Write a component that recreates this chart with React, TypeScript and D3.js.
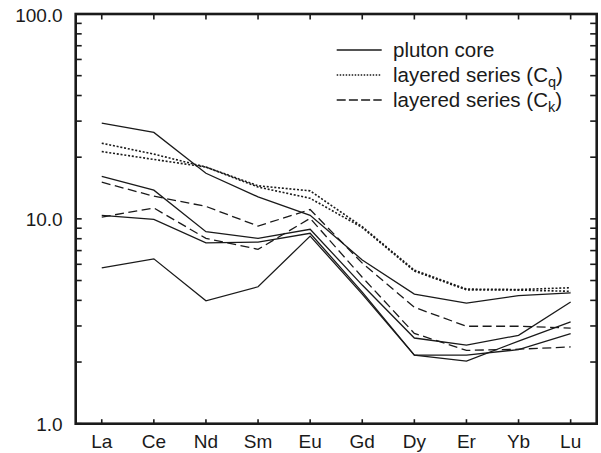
import React from 'react';
import * as d3 from 'd3';

const elements = ['La', 'Ce', 'Nd', 'Sm', 'Eu', 'Gd', 'Dy', 'Er', 'Yb', 'Lu'];
const yTickLabels = [
  { v: 1, label: '1.0' },
  { v: 10, label: '10.0' },
  { v: 100, label: '100.0' },
];

const plutonCore1 = [29.3, 26.4, 16.7, 12.8, 10.4, 6.3, 4.29, 3.88, 4.22, 4.35];
const plutonCore2 = [16.1, 13.8, 8.65, 8.03, 8.89, 4.75, 2.62, 2.42, 2.7, 3.93];
const plutonCore3 = [10.4, 9.94, 7.64, 7.7, 8.5, 4.39, 2.16, 2.16, 2.3, 2.75];
const plutonCore4 = [5.77, 6.38, 3.98, 4.66, 8.24, 4.29, 2.16, 2.02, 2.53, 3.14];
const layeredCq1 = [23.4, 20.7, 17.9, 14.5, 13.7, 9.15, 5.62, 4.54, 4.52, 4.61];
const layeredCq2 = [21.3, 19.5, 17.9, 14.3, 12.6, 9.07, 5.56, 4.5, 4.49, 4.43];
const layeredCk1 = [15.1, 12.9, 11.5, 9.22, 11.1, 6.08, 3.7, 2.99, 2.99, 2.93];
const layeredCk2 = [10.2, 11.3, 8.03, 7.1, 10.06, 5.19, 2.76, 2.28, 2.31, 2.37];

const seriesGroups = [
  { name: 'pluton core', sub: '', style: 'solid', lines: [plutonCore1, plutonCore2, plutonCore3, plutonCore4] },
  { name: 'layered series (C', sub: 'q', style: 'dotted', lines: [layeredCq1, layeredCq2] },
  { name: 'layered series (C', sub: 'k', style: 'dashed', lines: [layeredCk1, layeredCk2] },
];

const W = 601;
const H = 453;
const L = 75.7;
const R = 596.7;
const T = 14;
const B = 423.7;
const FONT = '"Liberation Sans", Arial, Helvetica, sans-serif';
const INK = '#1a1a1a';

const dashFor = (s: string) => (s === 'dotted' ? '2,1.8' : s === 'dashed' ? '9,4.5' : undefined);

export default function App() {
  const x = d3.scalePoint<string>().domain(elements).range([L, R]).padding(0.5);
  const y = d3.scaleLog().domain([1, 100]).range([B, T]);
  const line = d3
    .line<number>()
    .x((_, i) => x(elements[i]) as number)
    .y((d) => y(d));

  const minorTicks: number[] = [];
  for (const dec of [1, 10]) for (let k = 1; k <= 10; k++) minorTicks.push(dec * k);
  const yTicks = Array.from(new Set(minorTicks));

  return (
    <svg
      width={W}
      height={H}
      style={{ position: 'absolute', left: 0, top: 0, background: '#fff' }}
      fontFamily={FONT}
    >
      <rect x={0} y={0} width={W} height={H} fill="#fff" />
      {seriesGroups.map((g, gi) =>
        g.lines.map((vals, li) => (
          <path
            key={`${gi}-${li}`}
            d={line(vals) || ''}
            fill="none"
            stroke={INK}
            strokeWidth={g.style === 'dotted' ? 1.6 : 1.3}
            strokeDasharray={dashFor(g.style)}
            strokeLinejoin="miter"
          />
        ))
      )}
      {yTicks.map((t) => (
        <g key={`yt${t}`}>
          <line x1={L} x2={L + 6} y1={y(t)} y2={y(t)} stroke={INK} strokeWidth={1.6} />
          <line x1={R - 6.5} x2={R} y1={y(t)} y2={y(t)} stroke={INK} strokeWidth={1.6} />
        </g>
      ))}
      {elements.map((e) => (
        <g key={`xt${e}`}>
          <line x1={x(e)} x2={x(e)} y1={B} y2={B - 4.5} stroke={INK} strokeWidth={1.6} />
          <line x1={x(e)} x2={x(e)} y1={T} y2={T + 5.5} stroke={INK} strokeWidth={1.6} />
        </g>
      ))}
      <rect x={L} y={T} width={R - L} height={B - T} fill="none" stroke={INK} strokeWidth={2.6} />
      {yTickLabels.map((t) => (
        <text key={t.label} x={L - 13} y={y(t.v) + 7.5} textAnchor="end" fontSize={19} fill={INK}>
          {t.label}
        </text>
      ))}
      {elements.map((e) => (
        <text key={`xl${e}`} x={x(e)} y={B + 24.6} textAnchor="middle" fontSize={19} fill={INK}>
          {e}
        </text>
      ))}
      {seriesGroups.map((g, i) => {
        const ly = 50 + i * 25;
        return (
          <g key={`lg${i}`}>
            <line
              x1={336.7}
              x2={381.7}
              y1={ly}
              y2={ly}
              stroke={INK}
              strokeWidth={1.3}
              strokeDasharray={g.style === 'dotted' ? '1.5,1.5' : g.style === 'dashed' ? '9,3.2' : undefined}
            />
            <text x={393} y={ly + 7} fontSize={20.5} fill={INK}>
              {g.name}
              {g.sub ? (
                <>
                  <tspan fontSize={14.5} dy={5}>
                    {g.sub}
                  </tspan>
                  <tspan dy={-5}>)</tspan>
                </>
              ) : null}
            </text>
          </g>
        );
      })}
    </svg>
  );
}
